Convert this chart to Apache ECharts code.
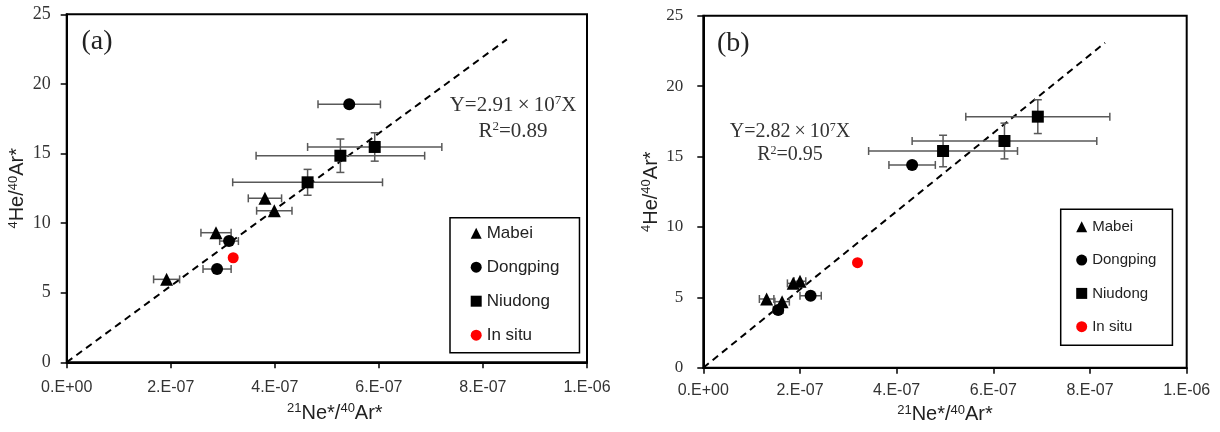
<!DOCTYPE html>
<html>
<head>
<meta charset="utf-8">
<script src="https://cdn.jsdelivr.net/npm/echarts@6/dist/echarts.min.js"></script>
<style>
  html, body { margin: 0; padding: 0; background: #fff; }
  #chart { width: 1220px; height: 432px; }
</style>
</head>
<body>
<div id="chart"></div>
<script>
// x ticks
var xTickLabels = ["0.E+00", "2.E-07", "4.E-07", "6.E-07", "8.E-07", "1.E-06"];

// panel (a) points [21Ne/40Ar, 4He/40Ar]
var mabeiA = [[1.92e-7, 5.96], [2.87e-7, 9.31], [3.81e-7, 11.78], [3.99e-7, 10.89]];
var mabeiAErr = [[0.25e-7, 0], [0.29e-7, 0], [0.32e-7, 0], [0.34e-7, 0]];
var dongpingA = [[2.89e-7, 6.70], [3.12e-7, 8.71], [5.43e-7, 18.53]];
var dongpingAErr = [[0.27e-7, 0], [0.18e-7, 0], [0.60e-7, 0]];
var niudongA = [[4.63e-7, 12.93], [5.26e-7, 14.84], [5.92e-7, 15.47]];
var niudongAErr = [[1.44e-7, 0.93], [1.62e-7, 1.2], [1.29e-7, 1.02]];
var insituA = [[3.20e-7, 7.51]];
var trendA = [[0, 0], [8.46e-7, 23.2]];

// panel (b)
var mabeiB = [[1.31e-7, 4.88], [1.63e-7, 4.69], [1.86e-7, 5.99], [2.00e-7, 6.14]];
var mabeiBErr = [[0.15e-7, 0], [0.15e-7, 0], [0.12e-7, 0], [0.12e-7, 0]];
var dongpingB = [[1.55e-7, 4.10], [2.22e-7, 5.11], [4.32e-7, 14.40]];
var dongpingBErr = [[0.1e-7, 0], [0.22e-7, 0], [0.48e-7, 0]];
var niudongB = [[4.96e-7, 15.39], [6.23e-7, 16.10], [6.92e-7, 17.83]];
var niudongBErr = [[1.54e-7, 1.12], [1.91e-7, 1.27], [1.49e-7, 1.2]];
var insituB = [[3.19e-7, 7.46]];
var trendB = [[0, 0], [8.31e-7, 23.08]];

var chart = echarts.init(document.getElementById("chart"));

function withErr(pts, err) {
  return pts.map(function (p, i) { return [p[0], p[1], err[i][0], err[i][1]]; });
}

// error bars drawn with custom series
function renderErr(params, api) {
  var x = api.value(0), y = api.value(1), ex = api.value(2), ey = api.value(3);
  var st = { stroke: "#595959", lineWidth: 1.5 };
  var kids = [];
  var cap = 4;
  if (ex > 0) {
    var l = api.coord([x - ex, y]), r = api.coord([x + ex, y]);
    kids.push({ type: "line", shape: { x1: l[0], y1: l[1], x2: r[0], y2: r[1] }, style: st });
    kids.push({ type: "line", shape: { x1: l[0], y1: l[1] - cap, x2: l[0], y2: l[1] + cap }, style: st });
    kids.push({ type: "line", shape: { x1: r[0], y1: r[1] - cap, x2: r[0], y2: r[1] + cap }, style: st });
  }
  if (ey > 0) {
    var t = api.coord([x, y + ey]), b = api.coord([x, y - ey]);
    kids.push({ type: "line", shape: { x1: t[0], y1: t[1], x2: b[0], y2: b[1] }, style: st });
    kids.push({ type: "line", shape: { x1: t[0] - cap, y1: t[1], x2: t[0] + cap, y2: t[1] }, style: st });
    kids.push({ type: "line", shape: { x1: b[0] - cap, y1: b[1], x2: b[0] + cap, y2: b[1] }, style: st });
  }
  return { type: "group", children: kids };
}

var supRich = function (size) {
  return { sup: { fontSize: size, fontFamily: "Liberation Sans", verticalAlign: "top", lineHeight: size } };
};

function xAxisOf(idx, gap, margin, shift) {
  return {
    gridIndex: idx, type: "value", min: 0, max: 1e-6, interval: 2e-7,
    name: "{sup|21}Ne*/{sup|40}Ar*", nameLocation: "middle", nameGap: gap,
    nameTextStyle: { fontFamily: "Liberation Sans", fontSize: 20, color: "#222", lineHeight: 22,
      padding: [0, 0, 0, shift], rich: supRich(13) },
    axisLine: { onZero: false, lineStyle: { color: "#000", width: 2 } },
    axisTick: { length: 6, lineStyle: { color: "#000", width: 1.5 } },
    axisLabel: {
      margin: margin, fontFamily: "Liberation Sans", fontSize: 16, color: "#333",
      formatter: function (v) { return xTickLabels[Math.round(v / 2e-7)]; }
    },
    splitLine: { show: false }
  };
}

function yAxisOf(idx, gap, margin, size) {
  return {
    gridIndex: idx, type: "value", min: 0, max: 25, interval: 5,
    name: "{sup|4}He/{sup|40}Ar*", nameLocation: "middle", nameGap: gap, nameRotate: 90,
    nameTextStyle: { fontFamily: "Liberation Sans", fontSize: 20, color: "#222", lineHeight: 22, rich: supRich(13) },
    axisLine: { onZero: false, lineStyle: { color: "#000", width: 2 } },
    axisTick: { length: 6, lineStyle: { color: "#000", width: 1.5 } },
    axisLabel: { margin: margin, fontFamily: "Liberation Serif", fontSize: size, color: "#333" },
    splitLine: { show: false }
  };
}

function panelSeries(idx, mabei, mabeiErr, dongping, dongpingErr, niudong, niudongErr, insitu, trend) {
  var ax = { xAxisIndex: idx, yAxisIndex: idx };
  var out = [];
  out.push(Object.assign({ type: "line", name: "trend", data: trend, showSymbol: false, silent: true,
    lineStyle: { color: "#000", width: 2, type: [7, 5] }, z: 1 }, ax));
  [[mabei, mabeiErr], [dongping, dongpingErr], [niudong, niudongErr]].forEach(function (s) {
    out.push(Object.assign({ type: "custom", name: "err", renderItem: renderErr,
      data: withErr(s[0], s[1]), encode: { x: 0, y: 1 }, z: 2, silent: true }, ax));
  });
  out.push(Object.assign({ type: "scatter", name: "Mabei", data: mabei, symbol: "triangle", symbolSize: 13,
    itemStyle: { color: "#000", opacity: 1 }, z: 3 }, ax));
  out.push(Object.assign({ type: "scatter", name: "Dongping", data: dongping, symbol: "circle", symbolSize: 12,
    itemStyle: { color: "#000", opacity: 1 }, z: 3 }, ax));
  out.push(Object.assign({ type: "scatter", name: "Niudong", data: niudong, symbol: "rect", symbolSize: 12,
    itemStyle: { color: "#000", opacity: 1 }, z: 3 }, ax));
  out.push(Object.assign({ type: "scatter", name: "In situ", data: insitu, symbol: "circle", symbolSize: 11,
    itemStyle: { color: "#ff0000", opacity: 1 }, z: 3 }, ax));
  return out;
}

var legendNames = ["Mabei", "Dongping", "Niudong", "In situ"];

function legendOf(left, top, size, gap, pad) {
  return {
    data: legendNames, orient: "vertical", left: left, top: top,
    itemWidth: 11, itemHeight: 11, itemGap: gap, padding: pad,
    borderColor: "#000", borderWidth: 1.5, backgroundColor: "#fff",
    itemStyle: { opacity: 1 },
    textStyle: { fontFamily: "Liberation Sans", fontSize: size, color: "#222" },
    selectedMode: false
  };
}

function eqText(x, y, l1, l2, size, dy) {
  var rich = { sup: { fontSize: Math.round(size * 0.6), fontFamily: "Liberation Serif", verticalAlign: "top", lineHeight: Math.round(size * 0.6), fill: "#333" } };
  return [
    { type: "text", x: x, y: y, style: {
      text: l1, fill: "#333", font: size + "px 'Liberation Serif'", align: "center", verticalAlign: "middle", rich: rich
    } },
    { type: "text", x: x, y: y + dy, style: {
      text: l2, fill: "#333", font: size + "px 'Liberation Serif'", align: "center", verticalAlign: "middle", rich: rich
    } }
  ];
}

var option = {
  animation: false,
  grid: [
    { left: 66.7, top: 14.3, width: 520.3, height: 348, show: true, borderColor: "#000", borderWidth: 2 },
    { left: 703.3, top: 15.7, width: 483.4, height: 352, show: true, borderColor: "#000", borderWidth: 2 }
  ],
  xAxis: [xAxisOf(0, 40, 17, 16), xAxisOf(1, 35, 15, 0)],
  yAxis: [yAxisOf(0, 27, 16, 18), yAxisOf(1, 38, 20, 17)],
  legend: [
    legendOf(450, 217.7, 17, 17, [7, 20, 9, 20.7]),
    legendOf(1060.7, 209.3, 15, 18.3, [10, 16, 11, 15.5])
  ],
  graphic: [
    { type: "text", x: 97, y: 41.7, style: { text: "(a)", fill: "#222", font: "28px 'Liberation Serif'", align: "center", verticalAlign: "middle" } },
    { type: "text", x: 733.3, y: 43.3, style: { text: "(b)", fill: "#222", font: "28px 'Liberation Serif'", align: "center", verticalAlign: "middle" } }
  ].concat(eqText(513, 105, "Y=2.91\u2009×\u200910{sup|7}X", "R{sup|2}=0.89", 21, 26))
   .concat(eqText(790, 132, "Y=2.82\u2009×\u200910{sup|7}X", "R{sup|2}=0.95", 20, 23)),
  series: panelSeries(0, mabeiA, mabeiAErr, dongpingA, dongpingAErr, niudongA, niudongAErr, insituA, trendA)
    .concat(panelSeries(1, mabeiB, mabeiBErr, dongpingB, dongpingBErr, niudongB, niudongBErr, insituB, trendB))
};

chart.setOption(option);
</script>
</body>
</html>
